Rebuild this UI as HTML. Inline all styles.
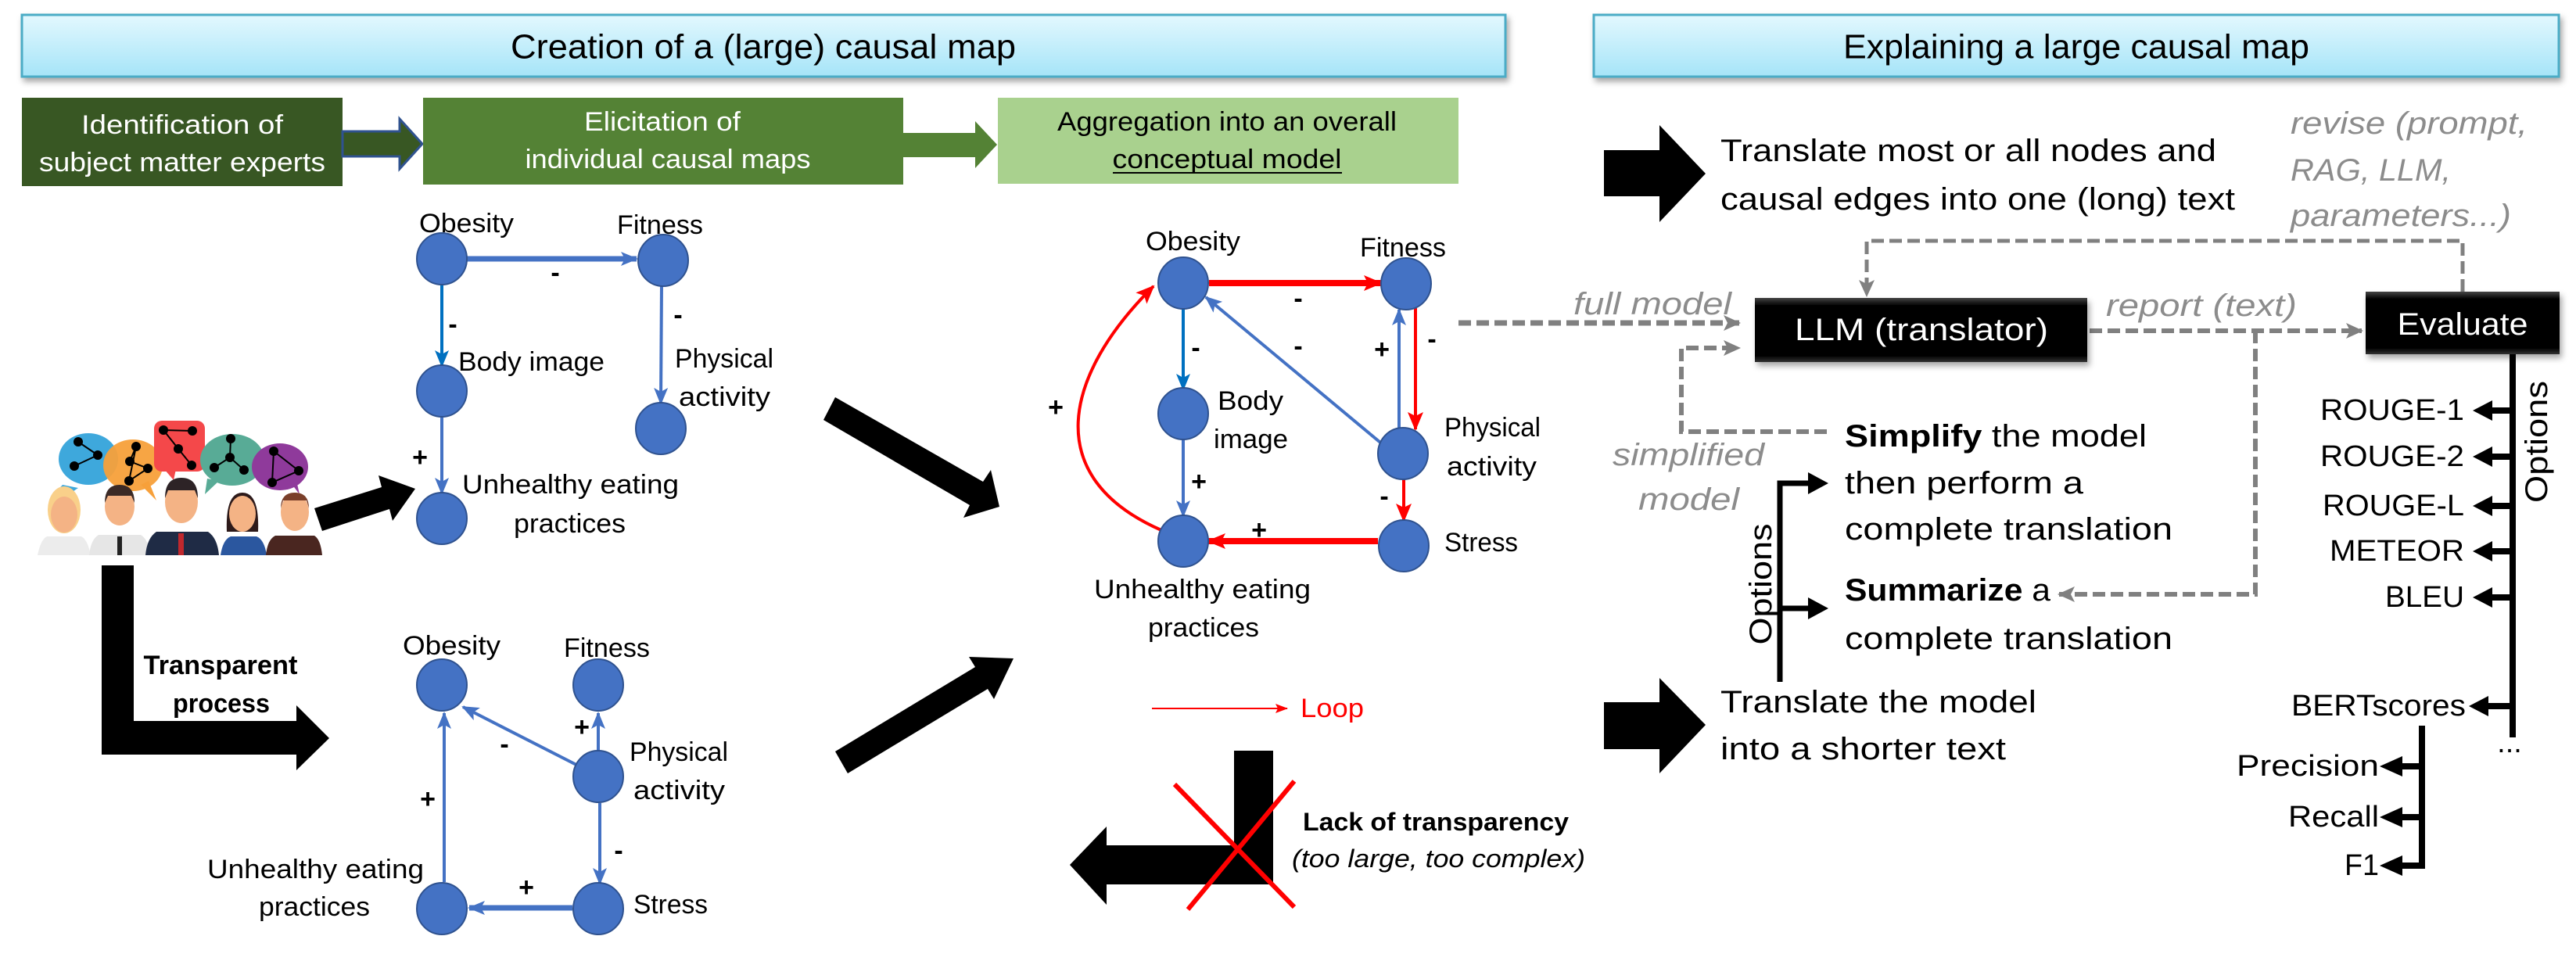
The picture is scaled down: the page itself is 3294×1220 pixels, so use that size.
<!DOCTYPE html>
<html><head><meta charset="utf-8"><style>html,body{margin:0;padding:0;background:#fff}svg{display:block}text{font-family:"Liberation Sans",sans-serif}</style></head>
<body>
<svg xmlns="http://www.w3.org/2000/svg" width="3294" height="1220" viewBox="0 0 3294 1220">
<defs>
<linearGradient id="hg" x1="0" y1="0" x2="0" y2="1"><stop offset="0" stop-color="#e3f8fe"/><stop offset="1" stop-color="#a5e4f8"/></linearGradient>
<linearGradient id="bg" x1="0" y1="0" x2="0" y2="1"><stop offset="0" stop-color="#444"/><stop offset="0.12" stop-color="#000"/><stop offset="0.9" stop-color="#000"/><stop offset="1" stop-color="#333"/></linearGradient>
<filter id="sh" x="-5%" y="-20%" width="110%" height="150%"><feDropShadow dx="3" dy="5" stdDeviation="4" flood-color="#000" flood-opacity="0.35"/></filter>
<marker id="ab" markerUnits="userSpaceOnUse" markerWidth="22" markerHeight="22" refX="20" refY="11" orient="auto"><path d="M0,2 L22,11 L0,20 L5,11 Z" fill="#4472c4"/></marker>
<marker id="ab2" markerUnits="userSpaceOnUse" markerWidth="22" markerHeight="22" refX="20" refY="11" orient="auto"><path d="M0,2 L22,11 L0,20 L5,11 Z" fill="#0070c0"/></marker>
<marker id="ar" markerUnits="userSpaceOnUse" markerWidth="24" markerHeight="24" refX="22" refY="12" orient="auto"><path d="M0,2 L24,12 L0,22 L5,12 Z" fill="#ff0000"/></marker>
<marker id="ars" markerUnits="userSpaceOnUse" markerWidth="16" markerHeight="16" refX="15" refY="8" orient="auto"><path d="M0,2 L16,8 L0,14 L3,8 Z" fill="#ff0000"/></marker>
<marker id="ag" markerUnits="userSpaceOnUse" markerWidth="22" markerHeight="24" refX="20" refY="12" orient="auto"><path d="M0,2 L22,12 L0,22 L5,12 Z" fill="#808080"/></marker>
</defs>

<!-- Headers -->
<rect x="28" y="19" width="1897" height="79" fill="url(#hg)" stroke="#4bacc6" stroke-width="3" filter="url(#sh)"/>
<text x="976" y="60" font-size="44" text-anchor="middle" dominant-baseline="central" textLength="646" lengthAdjust="spacingAndGlyphs">Creation of a (large) causal map</text>
<rect x="2038" y="19" width="1234" height="79" fill="url(#hg)" stroke="#4bacc6" stroke-width="3" filter="url(#sh)"/>
<text x="2655" y="60" font-size="44" text-anchor="middle" dominant-baseline="central" textLength="596" lengthAdjust="spacingAndGlyphs">Explaining a large causal map</text>

<!-- Green process boxes -->
<rect x="28" y="125" width="410" height="113" fill="#385723"/>
<text x="233" y="160" font-size="34" fill="#fff" text-anchor="middle" dominant-baseline="central" textLength="258" lengthAdjust="spacingAndGlyphs">Identification of</text>
<text x="233" y="208" font-size="34" fill="#fff" text-anchor="middle" dominant-baseline="central" textLength="366" lengthAdjust="spacingAndGlyphs">subject matter experts</text>
<polygon points="438,168 511,168 511,152 540,184 511,216 511,200 438,200" fill="#385723" stroke="#2f528f" stroke-width="3"/>
<rect x="541" y="125" width="614" height="111" fill="#548235"/>
<text x="847" y="156" font-size="34" fill="#fff" text-anchor="middle" dominant-baseline="central" textLength="200" lengthAdjust="spacingAndGlyphs">Elicitation of</text>
<text x="854" y="204" font-size="34" fill="#fff" text-anchor="middle" dominant-baseline="central" textLength="365" lengthAdjust="spacingAndGlyphs">individual causal maps</text>
<polygon points="1155,170 1247,170 1247,155 1275,185 1247,215 1247,201 1155,201" fill="#548235"/>
<rect x="1276" y="125" width="589" height="110" fill="#a9d18e"/>
<text x="1569" y="156" font-size="34" text-anchor="middle" dominant-baseline="central" textLength="434" lengthAdjust="spacingAndGlyphs">Aggregation into an overall</text>
<text x="1569" y="204" font-size="34" text-anchor="middle" dominant-baseline="central" textLength="293" lengthAdjust="spacingAndGlyphs">conceptual model</text>
<line x1="1423" y1="221" x2="1716" y2="221" stroke="#000" stroke-width="2"/>

<!-- People -->
<g>
<path d="M80,620 Q60,640 70,650 Q90,630 100,624 Z" fill="#3ea8dc"/>
<ellipse cx="113" cy="587" rx="38" ry="33" fill="#3ea8dc"/>
<path d="M180,620 L200,640 L190,615 Z" fill="#f7a03a"/>
<ellipse cx="170" cy="595" rx="38" ry="33" fill="#f7a03a" opacity="0.95"/>
<rect x="197" y="538" width="65" height="65" rx="10" fill="#f4484a"/>
<path d="M210,600 L222,614 L225,600 Z" fill="#f4484a"/>
<path d="M265,612 L262,632 L280,615 Z" fill="#58ab96"/>
<ellipse cx="297" cy="588" rx="41" ry="33" fill="#58ab96"/>
<path d="M370,615 L383,632 L378,610 Z" fill="#8f3a9b"/>
<ellipse cx="358" cy="597" rx="36" ry="30" fill="#8f3a9b"/>
<g fill="#000"><circle cx="100" cy="565" r="6"/><circle cx="125" cy="582" r="6"/><circle cx="95" cy="596" r="6"/><circle cx="174" cy="571" r="6"/><circle cx="166" cy="590" r="6"/><circle cx="189" cy="599" r="6"/><circle cx="165" cy="615" r="6"/><circle cx="209" cy="550" r="6"/><circle cx="246" cy="551" r="6"/><circle cx="228" cy="574" r="6"/><circle cx="245" cy="595" r="6"/><circle cx="295" cy="561" r="6"/><circle cx="294" cy="585" r="6"/><circle cx="274" cy="598" r="6"/><circle cx="312" cy="601" r="6"/><circle cx="350" cy="577" r="6"/><circle cx="382" cy="602" r="6"/><circle cx="348" cy="617" r="6"/></g>
<g stroke="#000" stroke-width="2" fill="none"><path d="M100,565 L125,582 L95,596"/><path d="M174,571 L166,590 L189,599 L165,615 L174,571"/><path d="M209,550 L246,551 M209,550 L228,574 L245,595"/><path d="M295,561 L294,585 L274,598 M294,585 L312,601"/><path d="M350,577 L382,602 L348,617 Z"/></g>
<path d="M48,710 Q52,690 60,686 L104,686 Q112,690 116,710 Z" fill="#ececec"/>
<ellipse cx="82" cy="652" rx="21" ry="30" fill="#f9d08a"/><ellipse cx="82" cy="658" rx="17" ry="23" fill="#f4b385"/>
<path d="M114,710 Q116,690 126,684 L180,684 Q190,690 192,710 Z" fill="#e6e6e6"/><rect x="150" y="686" width="6" height="24" fill="#222"/>
<ellipse cx="153" cy="648" rx="19" ry="24" fill="#f4b385"/><path d="M134,643 Q134,620 153,620 Q172,620 172,643 L168,634 L138,634 Z" fill="#3b2a26"/>
<path d="M186,710 Q188,688 200,680 L266,680 Q278,688 280,710 Z" fill="#1f2b45"/><rect x="228" y="682" width="7" height="28" fill="#c0282d"/>
<ellipse cx="232" cy="642" rx="21" ry="27" fill="#f4b385"/><path d="M211,637 Q211,611 232,611 Q253,611 253,637 L249,627 L215,627 Z" fill="#2d2326"/>
<path d="M282,710 Q285,690 295,686 L328,686 Q338,690 341,710 Z" fill="#2b579f"/>
<path d="M290,680 Q288,630 310,630 Q332,630 330,680 Z" fill="#2d1a1a"/><ellipse cx="310" cy="657" rx="17" ry="23" fill="#f4b385"/>
<path d="M340,710 Q342,690 352,685 L402,685 Q410,690 412,710 Z" fill="#4a2620"/>
<ellipse cx="377" cy="655" rx="18" ry="24" fill="#f4b385"/><path d="M359,650 Q359,630 377,630 Q395,630 395,650 L392,640 L362,640 Z" fill="#7a3f2a"/>
</g>

<!-- Big black arrows (left part) -->
<polygon points="402,650 488,623 484,608 531,625 502,666 498,651 412,679" fill="#000"/>
<polygon points="130,723 171,723 171,922 379,922 379,902 421,944 379,985 379,965 130,965" fill="#000"/>
<text x="282" y="851" font-size="34" font-weight="bold" text-anchor="middle" dominant-baseline="central" textLength="197" lengthAdjust="spacingAndGlyphs">Transparent</text>
<text x="283" y="900" font-size="34" font-weight="bold" text-anchor="middle" dominant-baseline="central" textLength="124" lengthAdjust="spacingAndGlyphs">process</text>
<polygon points="1068,508 1257,616 1267,601 1278,648 1232,662 1240,646 1053,537" fill="#000"/>
<polygon points="1068,961 1247,853 1239,840 1296,842 1271,894 1263,881 1084,989" fill="#000"/>

<!-- Map 1 -->
<g stroke-width="4" fill="none">
<line x1="597" y1="331" x2="814" y2="331" stroke="#4472c4" stroke-width="7" marker-end="url(#ab)"/>
<line x1="565" y1="363" x2="565" y2="468" stroke="#0070c0" marker-end="url(#ab2)"/>
<line x1="846" y1="365" x2="845" y2="516" stroke="#4472c4" marker-end="url(#ab)"/>
<line x1="565" y1="532" x2="565" y2="631" stroke="#4472c4" marker-end="url(#ab)"/>
</g>
<g fill="#4472c4" stroke="#2f528f" stroke-width="2">
<ellipse cx="565" cy="331" rx="32" ry="33"/><ellipse cx="848" cy="333" rx="32" ry="33"/><ellipse cx="565" cy="500" rx="32" ry="33"/><ellipse cx="845" cy="548" rx="32" ry="33"/><ellipse cx="565" cy="663" rx="32" ry="33"/>
</g>
<g font-size="34" dominant-baseline="central">
<text x="536" y="286" textLength="121" lengthAdjust="spacingAndGlyphs">Obesity</text>
<text x="789" y="288" textLength="110" lengthAdjust="spacingAndGlyphs">Fitness</text>
<text x="586" y="463" textLength="187" lengthAdjust="spacingAndGlyphs">Body image</text>
<text x="863" y="459" textLength="126" lengthAdjust="spacingAndGlyphs">Physical</text>
<text x="868" y="508" textLength="117" lengthAdjust="spacingAndGlyphs">activity</text>
<text x="591" y="620" textLength="277" lengthAdjust="spacingAndGlyphs">Unhealthy eating</text>
<text x="657" y="670" textLength="143" lengthAdjust="spacingAndGlyphs">practices</text>
</g>
<g font-size="34" font-weight="bold" text-anchor="middle" dominant-baseline="central">
<text x="710" y="349">-</text><text x="579" y="415">-</text><text x="867" y="403">-</text><text x="537" y="585">+</text>
</g>

<!-- Map 2 -->
<g stroke="#4472c4" stroke-width="4" fill="none">
<line x1="568" y1="1128" x2="568" y2="912" marker-end="url(#ab)"/>
<line x1="737" y1="978" x2="592" y2="904" marker-end="url(#ab)"/>
<line x1="765" y1="960" x2="765" y2="912" marker-end="url(#ab)"/>
<line x1="767" y1="1027" x2="767" y2="1130" marker-end="url(#ab)"/>
<line x1="732" y1="1161" x2="600" y2="1161" stroke-width="7" marker-end="url(#ab)"/>
</g>
<g fill="#4472c4" stroke="#2f528f" stroke-width="2">
<ellipse cx="565" cy="876" rx="32" ry="33"/><ellipse cx="765" cy="876" rx="32" ry="33"/><ellipse cx="765" cy="993" rx="32" ry="33"/><ellipse cx="765" cy="1162" rx="32" ry="33"/><ellipse cx="565" cy="1162" rx="32" ry="33"/>
</g>
<g font-size="34" dominant-baseline="central">
<text x="515" y="826" textLength="125" lengthAdjust="spacingAndGlyphs">Obesity</text>
<text x="721" y="829" textLength="110" lengthAdjust="spacingAndGlyphs">Fitness</text>
<text x="805" y="962" textLength="126" lengthAdjust="spacingAndGlyphs">Physical</text>
<text x="810" y="1011" textLength="117" lengthAdjust="spacingAndGlyphs">activity</text>
<text x="810" y="1157" textLength="95" lengthAdjust="spacingAndGlyphs">Stress</text>
<text x="265" y="1112" textLength="277" lengthAdjust="spacingAndGlyphs">Unhealthy eating</text>
<text x="331" y="1160" textLength="142" lengthAdjust="spacingAndGlyphs">practices</text>
</g>
<g font-size="34" font-weight="bold" text-anchor="middle" dominant-baseline="central">
<text x="547" y="1022">+</text><text x="645" y="952">-</text><text x="744" y="930">+</text><text x="791" y="1088">-</text><text x="673" y="1135">+</text>
</g>

<!-- Center map -->
<g fill="none" stroke-width="4">
<path d="M1485,678 C1330,610 1360,480 1475,366" stroke="#ff0000" marker-end="url(#ar)"/>
<line x1="1546" y1="362" x2="1766" y2="362" stroke="#ff0000" stroke-width="8" marker-end="url(#ar)"/>
<line x1="1810" y1="394" x2="1810" y2="549" stroke="#ff0000" marker-end="url(#ar)"/>
<line x1="1789" y1="548" x2="1789" y2="396" stroke="#4472c4" marker-end="url(#ab)"/>
<line x1="1770" y1="570" x2="1542" y2="380" stroke="#4472c4" marker-end="url(#ab)"/>
<line x1="1513" y1="395" x2="1513" y2="498" stroke="#0070c0" marker-end="url(#ab2)"/>
<line x1="1513" y1="562" x2="1513" y2="660" stroke="#4472c4" marker-end="url(#ab)"/>
<line x1="1795" y1="613" x2="1795" y2="666" stroke="#ff0000" marker-end="url(#ar)"/>
<line x1="1762" y1="692" x2="1545" y2="692" stroke="#ff0000" stroke-width="8" marker-end="url(#ar)"/>
</g>
<g fill="#4472c4" stroke="#2f528f" stroke-width="2">
<ellipse cx="1513" cy="362" rx="32" ry="33"/><ellipse cx="1798" cy="363" rx="32" ry="33"/><ellipse cx="1513" cy="529" rx="32" ry="33"/><ellipse cx="1794" cy="580" rx="32" ry="33"/><ellipse cx="1513" cy="692" rx="32" ry="33"/><ellipse cx="1795" cy="698" rx="32" ry="33"/>
</g>
<g font-size="34" dominant-baseline="central">
<text x="1465" y="309" textLength="121" lengthAdjust="spacingAndGlyphs">Obesity</text>
<text x="1739" y="317" textLength="110" lengthAdjust="spacingAndGlyphs">Fitness</text>
<text x="1557" y="513" textLength="84" lengthAdjust="spacingAndGlyphs">Body</text>
<text x="1552" y="562" textLength="95" lengthAdjust="spacingAndGlyphs">image</text>
<text x="1847" y="547" textLength="123" lengthAdjust="spacingAndGlyphs">Physical</text>
<text x="1850" y="597" textLength="115" lengthAdjust="spacingAndGlyphs">activity</text>
<text x="1847" y="694" textLength="94" lengthAdjust="spacingAndGlyphs">Stress</text>
<text x="1399" y="754" textLength="277" lengthAdjust="spacingAndGlyphs">Unhealthy eating</text>
<text x="1468" y="803" textLength="142" lengthAdjust="spacingAndGlyphs">practices</text>
</g>
<g font-size="34" font-weight="bold" text-anchor="middle" dominant-baseline="central">
<text x="1660" y="382">-</text><text x="1660" y="443">-</text><text x="1831" y="434">-</text><text x="1767" y="447">+</text><text x="1529" y="445">-</text><text x="1533" y="616">+</text><text x="1770" y="635">-</text><text x="1610" y="678">+</text><text x="1350" y="521">+</text>
</g>
<line x1="1473" y1="906" x2="1646" y2="906" stroke="#ff0000" stroke-width="2" marker-end="url(#ars)"/>
<text x="1663" y="906" font-size="34" fill="#ff0000" dominant-baseline="central" textLength="81" lengthAdjust="spacingAndGlyphs">Loop</text>

<!-- Lack of transparency -->
<polygon points="1578,960 1628,960 1628,1131 1415,1131 1415,1157 1368,1106 1415,1057 1415,1081 1578,1081" fill="#000"/>
<line x1="1502" y1="1003" x2="1655" y2="1160" stroke="#ff0000" stroke-width="6"/>
<line x1="1655" y1="999" x2="1519" y2="1163" stroke="#ff0000" stroke-width="6"/>
<text x="1666" y="1051" font-size="32" font-weight="bold" dominant-baseline="central" textLength="340" lengthAdjust="spacingAndGlyphs">Lack of transparency</text>
<text x="1652" y="1098" font-size="32" font-style="italic" dominant-baseline="central" textLength="375" lengthAdjust="spacingAndGlyphs">(too large, too complex)</text>

<!-- Right section -->
<polygon points="2051,192 2122,192 2122,160 2181,222 2122,284 2122,251 2051,251" fill="#000"/>
<text x="2200" y="193" font-size="40" dominant-baseline="central" textLength="634" lengthAdjust="spacingAndGlyphs">Translate most or all nodes and</text>
<text x="2200" y="255" font-size="40" dominant-baseline="central" textLength="658" lengthAdjust="spacingAndGlyphs">causal edges into one (long) text</text>
<polygon points="2051,898 2122,898 2122,867 2181,927 2122,989 2122,958 2051,958" fill="#000"/>
<text x="2200" y="898" font-size="40" dominant-baseline="central" textLength="404" lengthAdjust="spacingAndGlyphs">Translate the model</text>
<text x="2200" y="958" font-size="40" dominant-baseline="central" textLength="365" lengthAdjust="spacingAndGlyphs">into a shorter text</text>

<g fill="#8c8c8c" font-size="40" font-style="italic" dominant-baseline="central">
<text x="2929" y="158" textLength="303" lengthAdjust="spacingAndGlyphs">revise (prompt,</text>
<text x="2929" y="218" textLength="205" lengthAdjust="spacingAndGlyphs">RAG, LLM,</text>
<text x="2929" y="276" textLength="282" lengthAdjust="spacingAndGlyphs">parameters...)</text>
<text x="2012" y="389" textLength="202" lengthAdjust="spacingAndGlyphs">full model</text>
<text x="2693" y="391" textLength="244" lengthAdjust="spacingAndGlyphs">report (text)</text>
<text x="2062" y="582" textLength="194" lengthAdjust="spacingAndGlyphs">simplified</text>
<text x="2095" y="639" textLength="129" lengthAdjust="spacingAndGlyphs">model</text>
</g>

<g fill="none" stroke="#808080" stroke-width="5" stroke-dasharray="16 7">
<path d="M3149,373 L3149,308 L2387,308 L2387,378" marker-end="url(#ag)"/>
<line x1="1865" y1="413" x2="2224" y2="413" stroke-width="7" marker-end="url(#ag)"/>
<line x1="2672" y1="423" x2="3020" y2="423" stroke-width="6" marker-end="url(#ag)"/>
<path d="M2884,423 L2884,760 L2633,760" stroke-width="6" marker-end="url(#ag)"/>
<path d="M2336,552 L2150,552 L2150,445 L2224,445" stroke-width="6" marker-end="url(#ag)"/>
</g>

<rect x="2244" y="381" width="425" height="82" fill="url(#bg)" filter="url(#sh)"/>
<text x="2457" y="422" font-size="40" fill="#fff" text-anchor="middle" dominant-baseline="central" textLength="324" lengthAdjust="spacingAndGlyphs">LLM (translator)</text>
<rect x="3025" y="373" width="248" height="80" fill="url(#bg)" filter="url(#sh)"/>
<text x="3149" y="415" font-size="40" fill="#fff" text-anchor="middle" dominant-baseline="central" textLength="167" lengthAdjust="spacingAndGlyphs">Evaluate</text>

<!-- Left options -->
<path d="M2276,872 L2276,618 L2316,618" fill="none" stroke="#000" stroke-width="7"/>
<polygon points="2312,604 2338,618 2312,632" fill="#000"/>
<line x1="2276" y1="778" x2="2316" y2="778" stroke="#000" stroke-width="7"/>
<polygon points="2312,764 2338,778 2312,792" fill="#000"/>
<text transform="translate(2252,747) rotate(-90)" font-size="40" text-anchor="middle" dominant-baseline="central" textLength="155" lengthAdjust="spacingAndGlyphs">Options</text>
<g font-size="40" dominant-baseline="central">
<text x="2359" y="558" textLength="386" lengthAdjust="spacingAndGlyphs"><tspan font-weight="bold">Simplify</tspan> the model</text>
<text x="2359" y="618" textLength="305" lengthAdjust="spacingAndGlyphs">then perform a</text>
<text x="2359" y="677" textLength="419" lengthAdjust="spacingAndGlyphs">complete translation</text>
<text x="2359" y="755" textLength="263" lengthAdjust="spacingAndGlyphs"><tspan font-weight="bold">Summarize</tspan> a</text>
<text x="2359" y="817" textLength="419" lengthAdjust="spacingAndGlyphs">complete translation</text>
</g>

<!-- Right options -->
<line x1="3213" y1="453" x2="3213" y2="943" stroke="#000" stroke-width="8"/>
<text transform="translate(3244,565) rotate(-90)" font-size="40" text-anchor="middle" dominant-baseline="central" textLength="156" lengthAdjust="spacingAndGlyphs">Options</text>
<g fill="#000">
<rect x="3180" y="521" width="33" height="8"/><polygon points="3162,525 3187,512 3187,538"/>
<rect x="3180" y="580" width="33" height="8"/><polygon points="3162,584 3187,571 3187,597"/>
<rect x="3180" y="643" width="33" height="8"/><polygon points="3162,647 3187,634 3187,660"/>
<rect x="3180" y="701" width="33" height="8"/><polygon points="3162,705 3187,692 3187,718"/>
<rect x="3180" y="760" width="33" height="8"/><polygon points="3162,764 3187,751 3187,777"/>
<rect x="3180" y="899" width="33" height="8"/><polygon points="3157,903 3182,890 3182,916"/>
<rect x="3070" y="976" width="27" height="8"/><polygon points="3043,980 3072,967 3072,993"/>
<rect x="3070" y="1041" width="27" height="8"/><polygon points="3043,1045 3072,1032 3072,1058"/>
<polygon points="3043,1107 3072,1094 3072,1120"/>
</g>
<path d="M3097,928 L3097,1107 L3070,1107" fill="none" stroke="#000" stroke-width="8"/>
<g font-size="38" text-anchor="end" dominant-baseline="central">
<text x="3151" y="525" textLength="184" lengthAdjust="spacingAndGlyphs">ROUGE-1</text>
<text x="3151" y="584" textLength="184" lengthAdjust="spacingAndGlyphs">ROUGE-2</text>
<text x="3151" y="647" textLength="181" lengthAdjust="spacingAndGlyphs">ROUGE-L</text>
<text x="3151" y="705" textLength="172" lengthAdjust="spacingAndGlyphs">METEOR</text>
<text x="3151" y="764" textLength="101" lengthAdjust="spacingAndGlyphs">BLEU</text>
<text x="3153" y="903" textLength="223" lengthAdjust="spacingAndGlyphs">BERTscores</text>
<text x="3042" y="980" textLength="182" lengthAdjust="spacingAndGlyphs">Precision</text>
<text x="3042" y="1045" textLength="116" lengthAdjust="spacingAndGlyphs">Recall</text>
<text x="3042" y="1107" textLength="44" lengthAdjust="spacingAndGlyphs">F1</text>
</g>
<text x="3209" y="950" font-size="38" text-anchor="middle" dominant-baseline="central">...</text>
</svg>
</body></html>
